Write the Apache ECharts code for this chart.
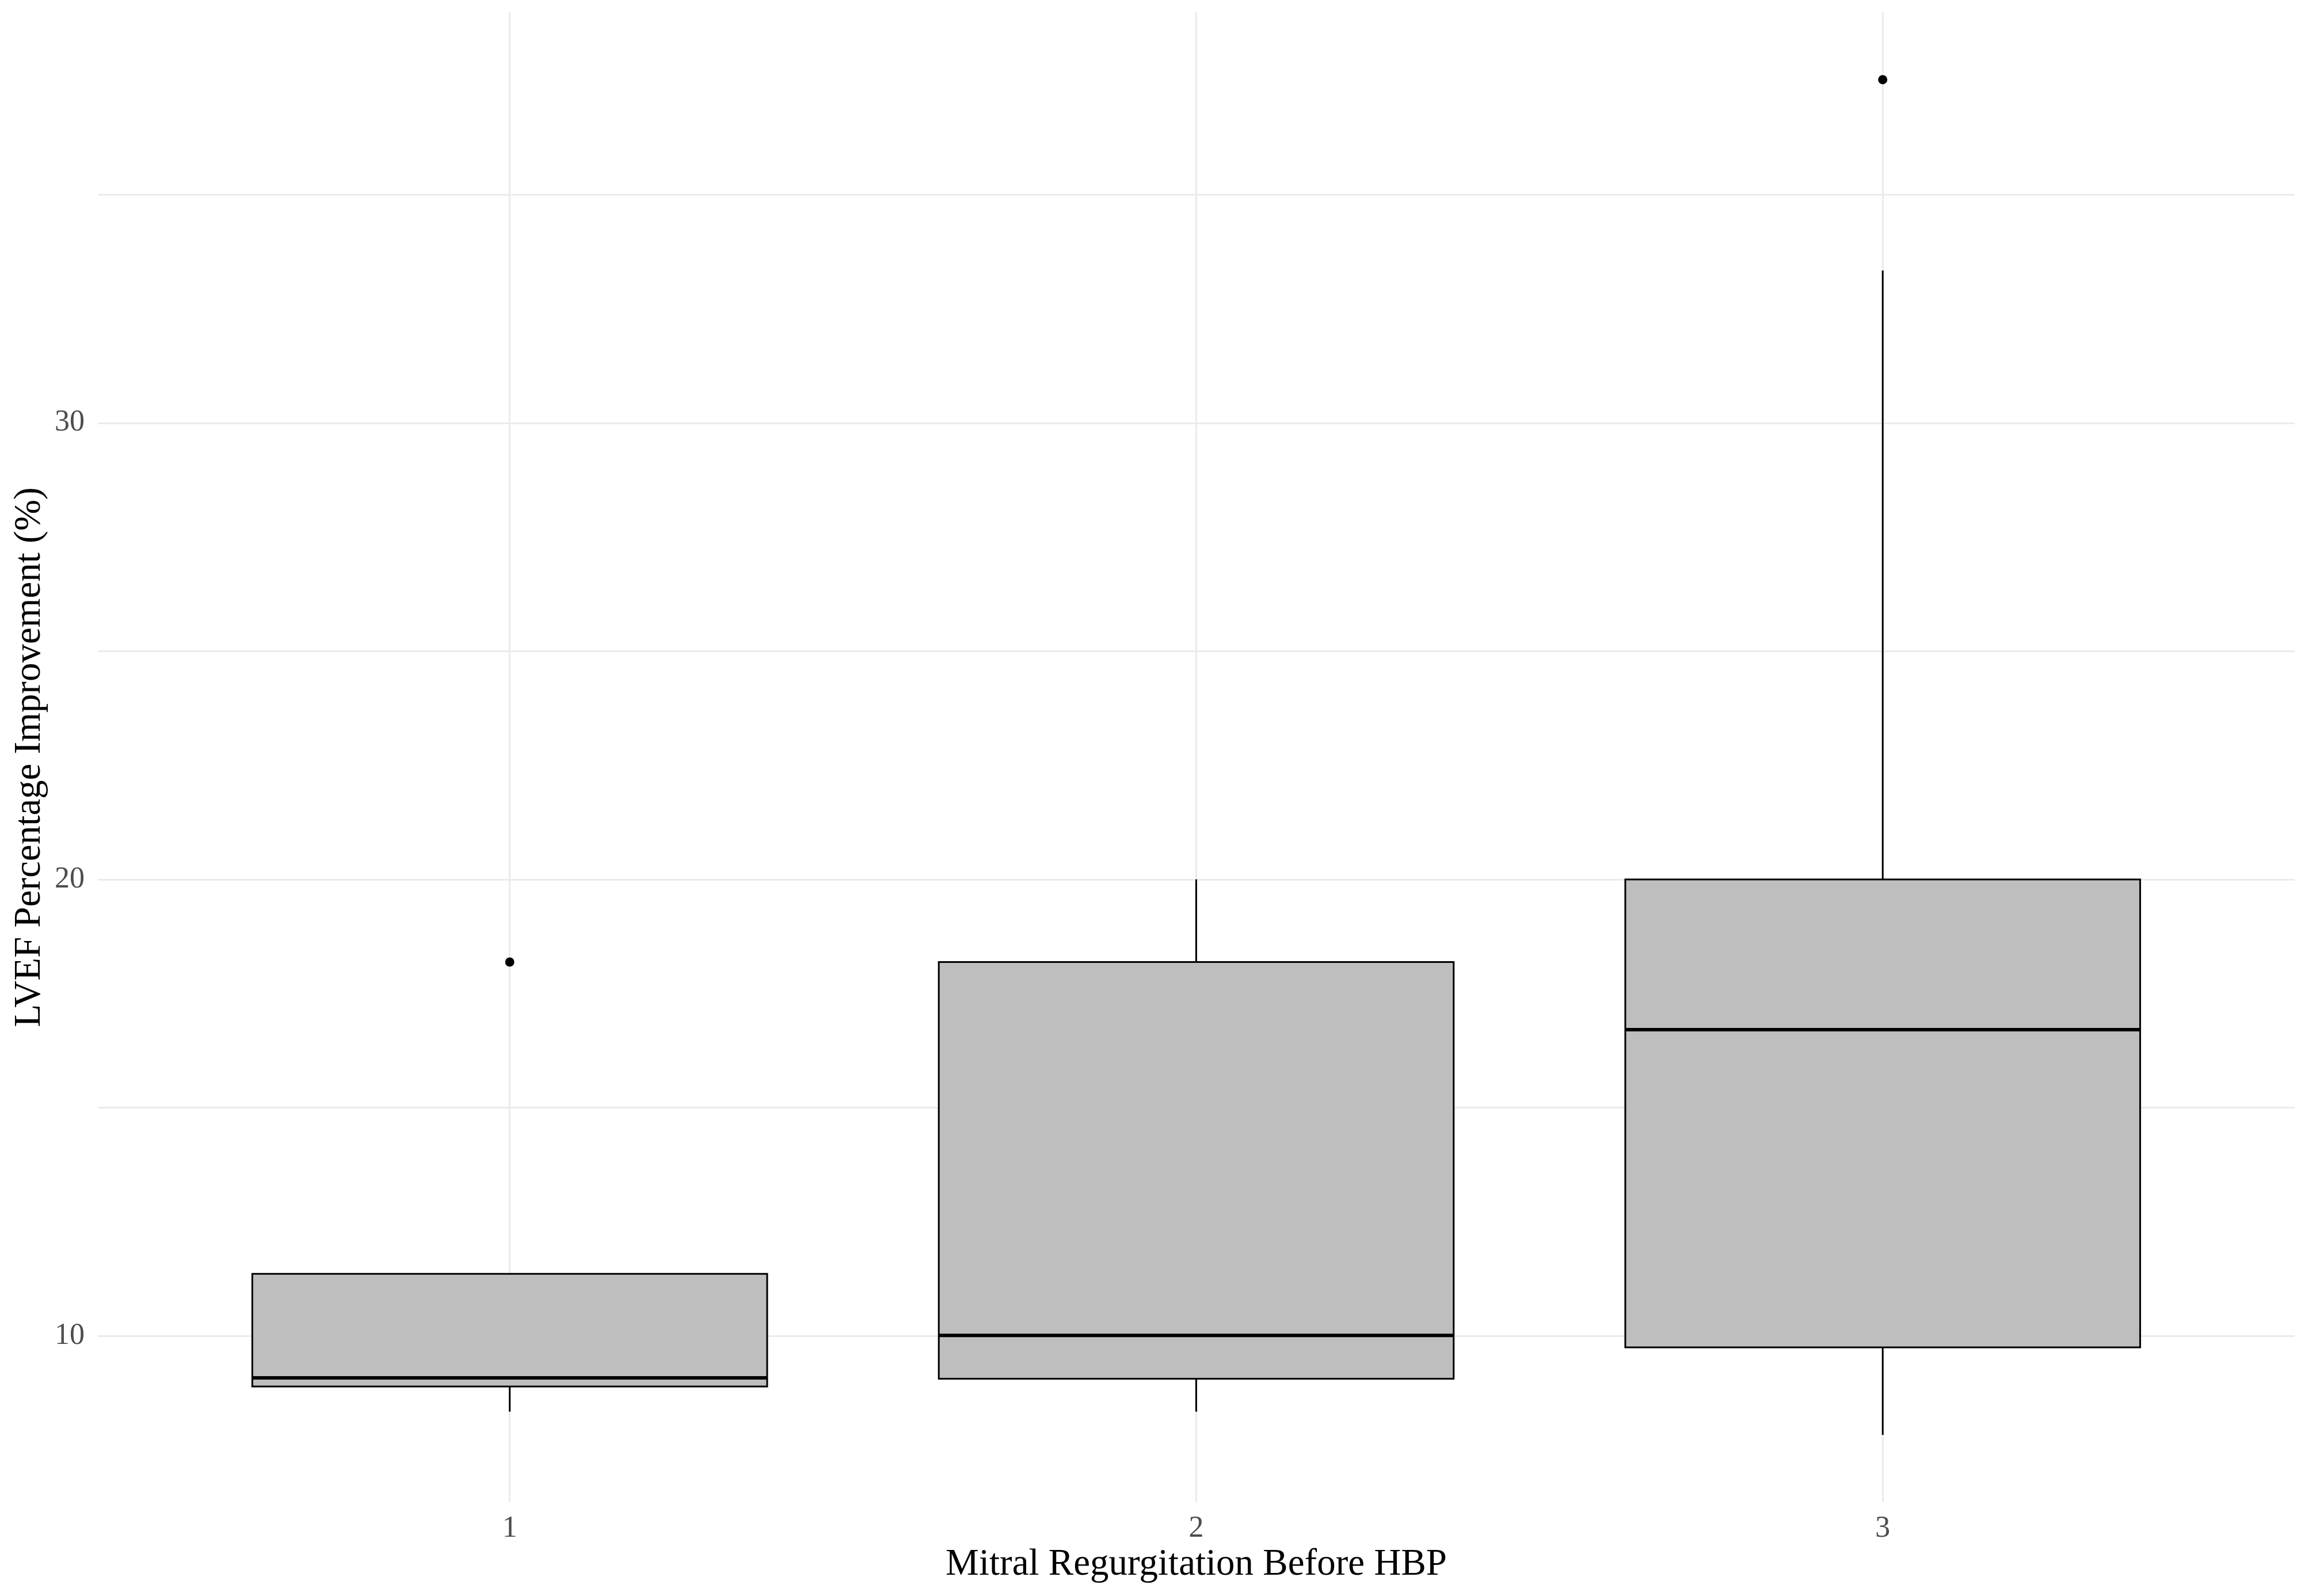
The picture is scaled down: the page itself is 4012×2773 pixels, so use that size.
<!DOCTYPE html>
<html>
<head>
<meta charset="utf-8">
<script src="https://cdn.jsdelivr.net/npm/echarts@6/dist/echarts.min.js"></script>
<style>
html,body{margin:0;padding:0;background:#ffffff;}
#c{width:4012px;height:2773px;}
</style>
</head>
<body>
<div id="c"></div>
<script>
// ---- data ----
const categories = ['1', '2', '3'];
const whiskerLow  = [8.34, 8.34, 7.83];
const q1          = [8.89, 9.06, 9.75];
const median      = [9.08, 10.01, 16.71];
const q3          = [11.36, 18.19, 20.0];
const whiskerHigh = [11.36, 20.0, 33.34];
const outlierGroup = [1, 3];
const outlierValue = [18.19, 37.52];
const xTicks = [1, 2, 3];
const yLabelTicks = [10, 20, 30];
const yGridTicks = [10, 15, 20, 25, 30, 35];

const FONT = 'Liberation Serif';

const boxData = categories.map((c, i) => [i + 1, whiskerLow[i], q1[i], median[i], q3[i], whiskerHigh[i]]);
const outlierData = outlierGroup.map((g, i) => [g, outlierValue[i]]);

function renderBox(params, api) {
  const x = api.value(0);
  const lo = api.coord([x, api.value(1)]);
  const b1 = api.coord([x, api.value(2)]);
  const md = api.coord([x, api.value(3)]);
  const b3 = api.coord([x, api.value(4)]);
  const hi = api.coord([x, api.value(5)]);
  const w = api.size([0.75, 0])[0];
  const cx = lo[0];
  const children = [];
  if (hi[1] < b3[1]) children.push({type: 'line', shape: {x1: cx, y1: hi[1], x2: cx, y2: b3[1]}, style: {stroke: '#000', lineWidth: 3}});
  if (lo[1] > b1[1]) children.push({type: 'line', shape: {x1: cx, y1: b1[1], x2: cx, y2: lo[1]}, style: {stroke: '#000', lineWidth: 3}});
  children.push({type: 'rect', shape: {x: cx - w / 2, y: b3[1], width: w, height: b1[1] - b3[1]}, style: {fill: '#BEBEBE', stroke: '#000', lineWidth: 3}});
  children.push({type: 'line', shape: {x1: cx - w / 2, y1: md[1], x2: cx + w / 2, y2: md[1]}, style: {stroke: '#000', lineWidth: 6}});
  return {type: 'group', children: children};
}

const chart = echarts.init(document.getElementById('c'), null, {renderer: 'canvas', devicePixelRatio: 1, width: 4012, height: 2773});
chart.setOption({
  animation: false,
  backgroundColor: '#ffffff',
  grid: {left: 170, right: 25, top: 21, bottom: 163, containLabel: false},
  xAxis: {
    type: 'value',
    min: 0.4,
    max: 3.6,
    axisLine: {show: false},
    axisTick: {show: false, customValues: xTicks},
    axisLabel: {
      customValues: xTicks,
      formatter: v => categories[Math.round(v) - 1],
      fontFamily: FONT, fontSize: 52, color: '#4D4D4D', margin: 20
    },
    splitLine: {show: true, lineStyle: {color: '#EBEBEB', width: 3}},
    name: 'Mitral Regurgitation Before HBP',
    nameLocation: 'middle',
    nameGap: 76,
    nameTextStyle: {fontFamily: FONT, fontSize: 65, color: '#000000'}
  },
  yAxis: {
    type: 'value',
    min: 6.357,
    max: 39.0,
    axisLine: {show: false},
    axisTick: {show: false, customValues: yGridTicks},
    axisLabel: {
      customValues: yLabelTicks,
      fontFamily: FONT, fontSize: 52, color: '#4D4D4D', margin: 23
    },
    splitLine: {show: true, lineStyle: {color: '#EBEBEB', width: 3}},
    name: 'LVEF Percentage Improvement (%)',
    nameLocation: 'middle',
    nameRotate: 90,
    nameGap: 72,
    nameTextStyle: {fontFamily: FONT, fontSize: 65, color: '#000000'}
  },
  series: [
    {
      type: 'custom',
      name: 'box',
      renderItem: renderBox,
      encode: {x: 0, y: [1, 2, 3, 4, 5]},
      data: boxData,
      z: 2
    },
    {
      type: 'scatter',
      name: 'outliers',
      data: outlierData,
      symbol: 'circle',
      symbolSize: 16,
      itemStyle: {color: '#000000', opacity: 1},
      z: 3
    }
  ]
});
</script>
</body>
</html>
